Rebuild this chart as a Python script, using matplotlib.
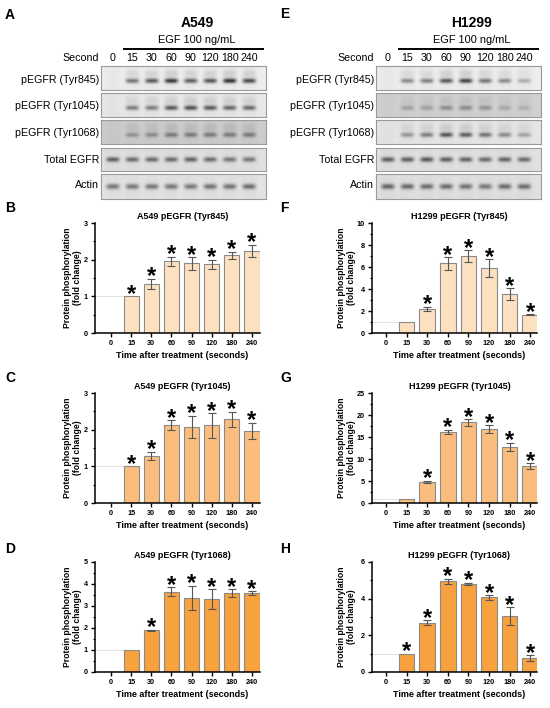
import numpy as np
import matplotlib
matplotlib.use('Agg')
import matplotlib.pyplot as plt
from matplotlib.ticker import MultipleLocator
from matplotlib.transforms import blended_transform_factory

plt.rcParams['font.family'] = ['Liberation Sans', 'DejaVu Sans']

W, H = 550, 708

seconds = ['0', '15', '30', '60', '90', '120', '180', '240']
blot_rows = ['pEGFR (Tyr845)', 'pEGFR (Tyr1045)', 'pEGFR (Tyr1068)', 'Total EGFR', 'Actin']

# band darkness per lane, read by eye from the blots (0 = no band, 1 = black)
a549_845_bands = [0.0, 0.55, 0.68, 0.85, 0.65, 0.70, 0.88, 0.75]
a549_1045_bands = [0.0, 0.50, 0.50, 0.68, 0.72, 0.68, 0.62, 0.60]
a549_1068_bands = [0.0, 0.32, 0.36, 0.46, 0.46, 0.46, 0.46, 0.46]
a549_total_bands = [0.65, 0.58, 0.58, 0.58, 0.62, 0.58, 0.52, 0.52]
a549_actin_bands = [0.52, 0.52, 0.52, 0.52, 0.52, 0.54, 0.54, 0.58]
a549_bg = [0.93, 0.91, 0.80, 0.88, 0.89]

h1299_845_bands = [0.0, 0.45, 0.50, 0.70, 0.78, 0.55, 0.45, 0.28]
h1299_1045_bands = [0.0, 0.25, 0.25, 0.36, 0.37, 0.32, 0.22, 0.16]
h1299_1068_bands = [0.0, 0.38, 0.50, 0.70, 0.66, 0.55, 0.44, 0.32]
h1299_total_bands = [0.65, 0.65, 0.68, 0.65, 0.62, 0.58, 0.62, 0.58]
h1299_actin_bands = [0.62, 0.60, 0.58, 0.58, 0.55, 0.52, 0.58, 0.58]
h1299_bg = [0.93, 0.82, 0.90, 0.88, 0.88]

# bar chart values (fold change, mean and error)
a549_845_mean = [0, 1.0, 1.34, 1.96, 1.90, 1.87, 2.12, 2.24]
a549_845_err = [0, 0, 0.14, 0.12, 0.17, 0.13, 0.10, 0.17]
a549_845_star = [0, 1, 1, 1, 1, 1, 1, 1]

a549_1045_mean = [0, 1.0, 1.28, 2.13, 2.08, 2.12, 2.28, 1.97]
a549_1045_err = [0, 0, 0.12, 0.13, 0.30, 0.34, 0.21, 0.22]
a549_1045_star = [0, 1, 1, 1, 1, 1, 1, 1]

a549_1068_mean = [0, 1.0, 1.89, 3.65, 3.38, 3.32, 3.59, 3.60]
a549_1068_err = [0, 0, 0.03, 0.20, 0.55, 0.46, 0.18, 0.09]
a549_1068_star = [0, 0, 1, 1, 1, 1, 1, 1]

h1299_845_mean = [0, 1.0, 2.20, 6.32, 7.00, 5.90, 3.55, 1.66]
h1299_845_err = [0, 0, 0.20, 0.55, 0.53, 0.83, 0.53, 0.04]
h1299_845_star = [0, 0, 1, 1, 1, 1, 1, 1]

h1299_1045_mean = [0, 1.0, 4.75, 16.2, 18.3, 16.8, 12.8, 8.4]
h1299_1045_err = [0, 0, 0.30, 0.50, 0.70, 0.90, 0.90, 0.60]
h1299_1045_star = [0, 0, 1, 1, 1, 1, 1, 1]

h1299_1068_mean = [0, 1.0, 2.69, 4.95, 4.81, 4.07, 3.06, 0.76]
h1299_1068_err = [0, 0, 0.15, 0.15, 0.06, 0.13, 0.47, 0.16]
h1299_1068_star = [0, 1, 1, 1, 1, 1, 1, 1]

colors = ['#fde0c0', '#fbbd7e', '#f8a13f']

fig = plt.figure(figsize=(W / 100, H / 100), dpi=100)
fig.patch.set_facecolor('white')


def px_axes(l, t, r, b):
    return fig.add_axes([l / W, 1 - b / H, (r - l) / W, (b - t) / H])


def ftext(x, y, s, **kw):
    fig.text(x / W, 1 - y / H, s, **kw)


def blot_image(bands, bg, kind):
    xs = np.linspace(-0.6, 7.85, 340)
    ys = np.linspace(0, 1, 50)
    X, Y = np.meshgrid(xs, ys)
    img = np.full(X.shape, bg)
    # lanes slightly darker than the gaps between them
    lane = np.zeros(X.shape)
    for i in range(len(bands)):
        lane += np.exp(-((X - i) / 0.42) ** 4)
    img -= 0.02 * lane
    y0, hh = (0.62, 0.1) if kind == 'p' else (0.5, 0.11)
    for i, v in enumerate(bands):
        shape = np.exp(-((X - i) / 0.34) ** 4)
        img -= v * (bg - 0.12) * shape * np.exp(-((Y - y0) / hh) ** 2)
        if kind == 'p':
            img -= 0.12 * v * shape * np.exp(-((Y - 0.32) / 0.18) ** 2)
    return np.clip(img, 0, 1)


def draw_blot(x0, title, bands_list, bgs, label_ys):
    box_l, box_r = x0 + 101, x0 + 266
    rows_tb = [(66, 90), (93, 117), (120, 144), (148, 171), (174, 199)]
    first = None
    for k, ((t, b), bands) in enumerate(zip(rows_tb, bands_list)):
        ax = px_axes(box_l, t, box_r, b)
        kind = 'p' if k < 3 else 'o'
        ax.imshow(blot_image(bands, bgs[k], kind), cmap='gray', vmin=0, vmax=1,
                  extent=(-0.6, 7.85, 1, 0), aspect='auto', interpolation='bilinear')
        ax.set_xlim(-0.6, 7.85)
        ax.set_ylim(1, 0)
        ax.set_xticks([])
        ax.set_yticks([])
        for s in ax.spines.values():
            s.set_color('#9a9a9a')
            s.set_linewidth(0.8)
        ftext(x0 + 99, label_ys[k], blot_rows[k], ha='right', va='center', fontsize=7.7)
        if first is None:
            first = ax
    tr = blended_transform_factory(first.transData, fig.transFigure)
    for i, s in enumerate(seconds):
        first.text(i, 1 - 58 / H, s, transform=tr, ha='center', va='center', fontsize=7.7)
    ftext(x0 + 99, 58, 'Second', ha='right', va='center', fontsize=7.7)
    ftext(x0 + 197, 23, title, ha='center', va='center', fontsize=10, fontweight='bold')
    ftext(x0 + 197, 40, 'EGF 100 ng/mL', ha='center', va='center', fontsize=7.9)
    first.plot([0.55, 7.75], [1 - 49 / H] * 2, transform=tr, color='black', lw=1.4,
               clip_on=False, solid_capstyle='butt')


label_ys = [80, 106, 133, 160, 185]
draw_blot(0, 'A549',
          [a549_845_bands, a549_1045_bands, a549_1068_bands, a549_total_bands, a549_actin_bands],
          a549_bg, label_ys)
draw_blot(275, 'H1299',
          [h1299_845_bands, h1299_1045_bands, h1299_1068_bands, h1299_total_bands, h1299_actin_bands],
          h1299_bg, label_ys)


def bar_panel(rect, xlim, title, mean, err, star, color, ymax, major, minor, ylab_x):
    ax = px_axes(*rect)
    x = np.arange(len(seconds))
    w = 0.76
    ax.hlines(1, xlim[0], x[1] - w / 2, color='#dcdcdc', lw=0.6, zorder=1)
    ax.bar(x, mean, width=w, color=color, edgecolor='#8a8a8a', linewidth=0.8, zorder=2)
    has_err = np.array(err) > 0
    ax.errorbar(x[has_err], np.array(mean)[has_err], yerr=np.array(err)[has_err], fmt='none',
                ecolor='#555555', elinewidth=0.8, capsize=3, capthick=0.8, zorder=3)
    for xi, m, e, s in zip(x, mean, err, star):
        if s:
            ax.annotate('*', (xi, m + e), xytext=(0, -3.4), textcoords='offset points',
                        ha='center', va='baseline', fontsize=17, fontweight='bold')
    ax.set_xlim(*xlim)
    ax.set_ylim(0, ymax)
    ax.yaxis.set_major_locator(MultipleLocator(major))
    ax.yaxis.set_minor_locator(MultipleLocator(minor))
    ax.set_xticks(x)
    ax.set_xticklabels(seconds)
    for side in ['top', 'right']:
        ax.spines[side].set_visible(False)
    for side in ['left', 'bottom']:
        ax.spines[side].set_linewidth(1.1)
    ax.tick_params(axis='both', which='major', length=3, width=1.0, labelsize=5.2, pad=2)
    ax.tick_params(axis='y', which='minor', length=1.8, width=0.8)
    for lab in ax.get_xticklabels() + ax.get_yticklabels():
        lab.set_fontweight('bold')
    ax.set_title(title, fontsize=6.5, fontweight='bold', pad=3, x=0.53)
    ax.set_xlabel('Time after treatment (seconds)', fontsize=6.5, fontweight='bold')
    ax.xaxis.set_label_coords(0.53, -0.165)
    ax.set_ylabel('Protein phosphorylation\n(fold change)', fontsize=6.2, fontweight='bold',
                  linespacing=1.1)
    ax.yaxis.set_label_coords(ylab_x, 0.5)
    return ax


left_x = (95, 260)
right_x = (372, 537)
rows_y = [(223, 333), (393, 503), (562, 672)]
xl_left = (-0.8, 7.4)
xl_right = (-0.68, 7.33)

bar_panel((left_x[0], rows_y[0][0], left_x[1], rows_y[0][1]), xl_left, 'A549 pEGFR (Tyr845)',
          a549_845_mean, a549_845_err, a549_845_star, colors[0], 3, 1, 0.5, -0.08)
bar_panel((left_x[0], rows_y[1][0], left_x[1], rows_y[1][1]), xl_left, 'A549 pEGFR (Tyr1045)',
          a549_1045_mean, a549_1045_err, a549_1045_star, colors[1], 3, 1, 0.5, -0.08)
bar_panel((left_x[0], rows_y[2][0], left_x[1], rows_y[2][1]), xl_left, 'A549 pEGFR (Tyr1068)',
          a549_1068_mean, a549_1068_err, a549_1068_star, colors[2], 5, 1, 0.5, -0.08)
bar_panel((right_x[0], rows_y[0][0], right_x[1], rows_y[0][1]), xl_right, 'H1299 pEGFR (Tyr845)',
          h1299_845_mean, h1299_845_err, h1299_845_star, colors[0], 10, 2, 1, -0.1)
bar_panel((right_x[0], rows_y[1][0], right_x[1], rows_y[1][1]), xl_right, 'H1299 pEGFR (Tyr1045)',
          h1299_1045_mean, h1299_1045_err, h1299_1045_star, colors[1], 25, 5, 2.5, -0.1)
bar_panel((right_x[0], rows_y[2][0], right_x[1], rows_y[2][1]), xl_right, 'H1299 pEGFR (Tyr1068)',
          h1299_1068_mean, h1299_1068_err, h1299_1068_star, colors[2], 6, 2, 1, -0.1)

# panel letters
for letter, x, y in [('A', 5, 15), ('B', 5, 208), ('C', 5, 378), ('D', 5, 549),
                     ('E', 280, 14), ('F', 280, 208), ('G', 280, 378), ('H', 280, 549)]:
    ftext(x, y, letter, ha='left', va='center', fontsize=10, fontweight='bold')

fig.savefig('out.png', dpi=100, facecolor='white')
